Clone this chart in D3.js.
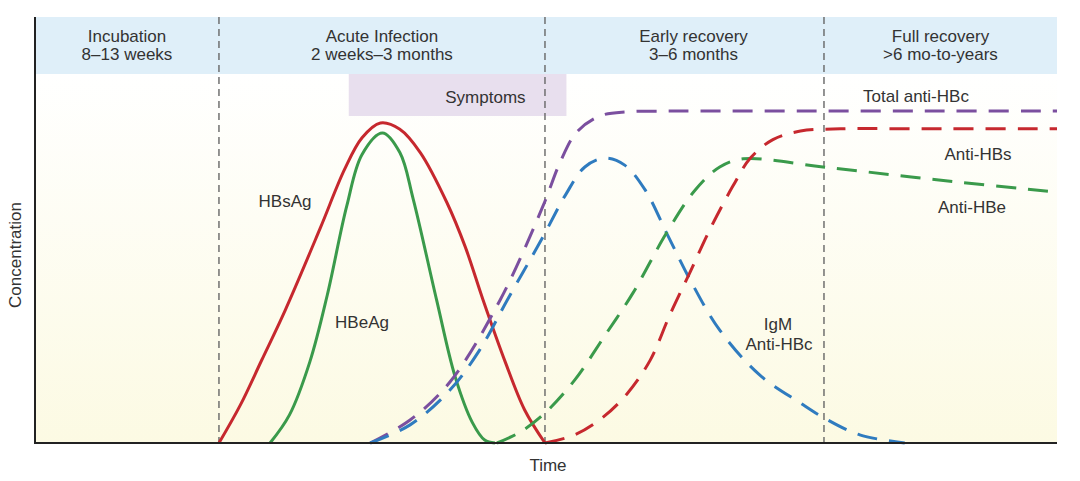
<!DOCTYPE html>
<html>
<head>
<meta charset="utf-8">
<script src="https://cdn.jsdelivr.net/npm/d3@7"></script>
<style>
  body { margin: 0; background: #fff; }
  text { font-family: "Liberation Sans", Arial, sans-serif; fill: #333; }
</style>
</head>
<body>
<svg id="chart" width="1080" height="481"></svg>
<script>
// phases (time units 0-100)
let phaseBounds = [0, 18.0, 49.9, 77.2, 100];
let phaseNames = ["Incubation", "Acute Infection", "Early recovery", "Full recovery"];
let phaseSpans = ["8\u201313 weeks", "2 weeks\u20133 months", "3\u20136 months", ">6 mo-to-years"];
let symptomsSpan = [30.7, 52.0];

// curves: [time, concentration]
let hbsAg = [[18.0,0],[20.1,10.3],[22.2,22.5],[24.5,36.0],[27.9,58.0],[30.3,74.0],[32.0,82.5],[33.8,86.5],[35.7,84.8],[37.7,78.5],[40.3,65.0],[42.1,53.0],[43.8,39.0],[46.0,22.0],[47.9,9.0],[49.9,0]];
let hbeAg = [[23.0,0],[24.9,7.6],[26.9,22.0],[28.6,40.0],[30.5,64.0],[32.0,78.0],[34.0,83.8],[35.7,78.5],[37.0,66.0],[39.3,38.6],[41.1,18.0],[42.8,5.5],[44.0,0.8],[45.0,0]];
let totalAntiHBc = [[32.8,0],[36.7,6.2],[40.6,16.5],[45.5,38.6],[49.7,64.0],[51.4,76.0],[53.0,84.0],[55.3,88.4],[58.0,89.5],[62.0,89.7],[75.0,89.7],[88.0,89.7],[100,89.7]];
let igmAntiHBc = [[32.8,0],[36.7,4.9],[40.6,14.3],[43.5,25.1],[46.2,38.6],[49.7,55.7],[51.9,67.0],[53.8,74.6],[55.8,77.0],[57.7,75.1],[59.7,68.4],[61.9,56.2],[64.1,44.1],[67.0,30.5],[70.9,18.4],[74.9,10.8],[77.2,6.8],[80.7,2.2],[85.1,0]];
let antiHBe = [[45.2,0],[47.5,3.0],[49.9,8.1],[52.8,17.0],[55.8,29.2],[58.5,40.5],[61.8,56.8],[64.6,68.4],[67.0,74.6],[69.3,76.8],[77.1,74.6],[88.0,71.2],[100,67.8]];
let antiHBs = [[49.9,0],[52.8,2.2],[55.5,6.8],[57.9,13.2],[60.2,22.4],[62.1,34.5],[64.1,46.2],[66.0,57.5],[68.3,69.5],[70.0,77.0],[72.2,82.0],[74.9,84.3],[78.8,84.9],[88.0,84.9],[100,84.9]];

let series = [
  { name: "HBsAg", data: hbsAg, color: "#c6282e", dash: null },
  { name: "HBeAg", data: hbeAg, color: "#3a9a4b", dash: null },
  { name: "Total anti-HBc", data: totalAntiHBc, color: "#7b4f9f", dash: "20,12" },
  { name: "IgM anti-HBc", data: igmAntiHBc, color: "#2f7bbf", dash: "20,12" },
  { name: "Anti-HBe", data: antiHBe, color: "#3a9a4b", dash: "20,12" },
  { name: "Anti-HBs", data: antiHBs, color: "#c6282e", dash: "20,12" }
];

let leftX = 35, rightX = 1057, bandTop = 17, plotTop = 74, baseY = 443;

let svg = d3.select("#chart");
let xScale = d3.scaleLinear().domain([0, 100]).range([leftX, rightX]);
let yScale = d3.scaleLinear().domain([0, 100]).range([baseY, plotTop - 1]);

// background gradient
let grad = svg.append("defs").append("linearGradient")
  .attr("id", "bg").attr("x1", 0).attr("y1", 0).attr("x2", 0).attr("y2", 1);
grad.append("stop").attr("offset", "0%").attr("stop-color", "#ffffff");
grad.append("stop").attr("offset", "100%").attr("stop-color", "#fcfae3");

svg.append("rect")
  .attr("x", leftX).attr("y", plotTop)
  .attr("width", rightX - leftX).attr("height", baseY - plotTop)
  .attr("fill", "url(#bg)");

// header band
svg.append("rect")
  .attr("x", leftX).attr("y", bandTop)
  .attr("width", rightX - leftX).attr("height", plotTop - bandTop)
  .attr("fill", "#dfeff9");

// symptoms box
svg.append("rect")
  .attr("x", xScale(symptomsSpan[0])).attr("y", plotTop)
  .attr("width", xScale(symptomsSpan[1]) - xScale(symptomsSpan[0]))
  .attr("height", 42)
  .attr("fill", "#e8dfee");
svg.append("text")
  .attr("x", xScale(symptomsSpan[1]) - 81).attr("y", 103)
  .attr("text-anchor", "middle").style("font-size", "17px")
  .text("Symptoms");

// phase labels
let mids = phaseNames.map((d, i) => (xScale(phaseBounds[i]) + xScale(phaseBounds[i + 1])) / 2);
mids[2] += 9;
svg.selectAll(".phase1").data(phaseNames).enter().append("text")
  .attr("x", (d, i) => mids[i]).attr("y", 42)
  .attr("text-anchor", "middle").style("font-size", "17px")
  .text(d => d);
svg.selectAll(".phase2").data(phaseSpans).enter().append("text")
  .attr("x", (d, i) => mids[i]).attr("y", 60)
  .attr("text-anchor", "middle").style("font-size", "17px")
  .text(d => d);

// phase dividers
svg.selectAll(".divider").data(phaseBounds.slice(1, 4)).enter().append("line")
  .attr("x1", d => xScale(d)).attr("x2", d => xScale(d))
  .attr("y1", bandTop).attr("y2", baseY)
  .attr("stroke", "#666").attr("stroke-width", 1.4)
  .attr("stroke-dasharray", "7,5");

// curves
let line = d3.line()
  .x(d => xScale(d[0]))
  .y(d => yScale(d[1]))
  .curve(d3.curveCatmullRom.alpha(0.5));

svg.selectAll(".curve").data(series).enter().append("path")
  .attr("d", d => line(d.data))
  .attr("fill", "none")
  .attr("stroke", d => d.color)
  .attr("stroke-width", 3)
  .attr("stroke-dasharray", d => d.dash);

// axes
svg.append("line").attr("x1", leftX).attr("x2", leftX)
  .attr("y1", bandTop).attr("y2", baseY + 1)
  .attr("stroke", "#222").attr("stroke-width", 2);
svg.append("line").attr("x1", leftX - 1).attr("x2", rightX)
  .attr("y1", baseY).attr("y2", baseY)
  .attr("stroke", "#222").attr("stroke-width", 2);

svg.append("text")
  .attr("transform", "translate(21,255) rotate(-90)")
  .attr("text-anchor", "middle").style("font-size", "17px")
  .text("Concentration");
svg.append("text")
  .attr("x", 548).attr("y", 471)
  .attr("text-anchor", "middle").style("font-size", "17px")
  .text("Time");

// curve labels
let labels = [
  { t: "HBsAg", x: 285, y: 207 },
  { t: "HBeAg", x: 362, y: 328 },
  { t: "IgM", x: 778, y: 330 },
  { t: "Anti-HBc", x: 779, y: 350 },
  { t: "Total anti-HBc", x: 916, y: 102 },
  { t: "Anti-HBs", x: 978, y: 160 },
  { t: "Anti-HBe", x: 972, y: 213 }
];
svg.selectAll(".lbl").data(labels).enter().append("text")
  .attr("x", d => d.x).attr("y", d => d.y)
  .attr("text-anchor", "middle").style("font-size", "17px")
  .text(d => d.t);
</script>
</body>
</html>
